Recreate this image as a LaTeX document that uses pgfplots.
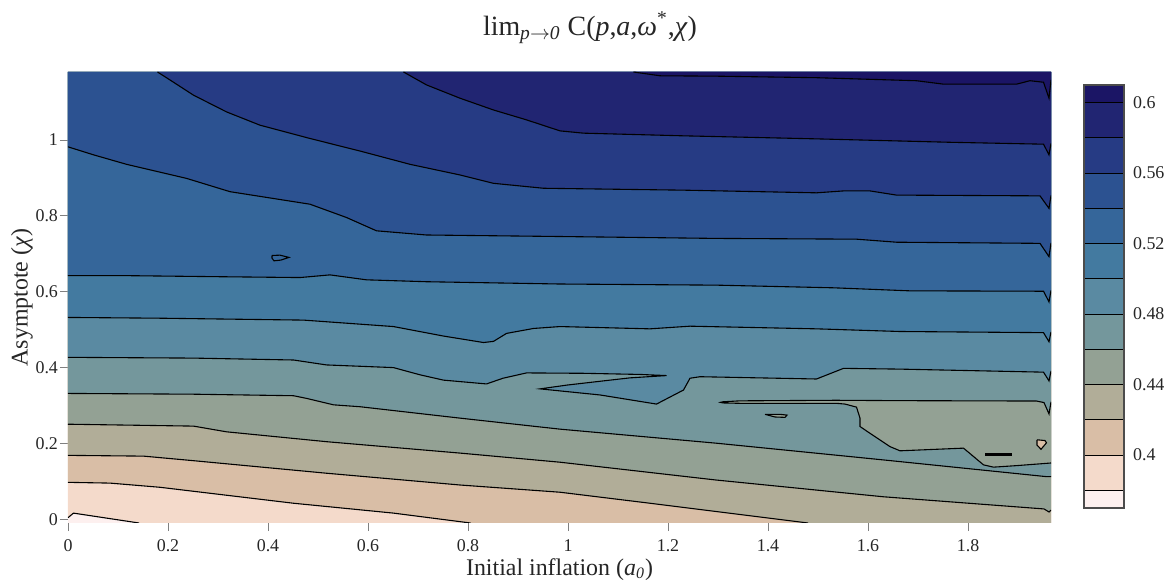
\documentclass[border=0pt]{standalone}
\usepackage{fontspec}
\setmainfont{Liberation Serif}
\usepackage{pgfplots}
\pgfplotsset{compat=1.18}
\definecolor{b0}{HTML}{FDF0EF}
\definecolor{b1}{HTML}{F4DACB}
\definecolor{b2}{HTML}{D9BEA6}
\definecolor{b3}{HTML}{B1AD98}
\definecolor{b4}{HTML}{93A194}
\definecolor{b5}{HTML}{74979C}
\definecolor{b6}{HTML}{5A8AA2}
\definecolor{b7}{HTML}{437AA0}
\definecolor{b8}{HTML}{35669A}
\definecolor{b9}{HTML}{2C5291}
\definecolor{b10}{HTML}{263B84}
\definecolor{b11}{HTML}{212572}
\definecolor{b12}{HTML}{1B1565}
\definecolor{txt}{HTML}{262626}
% contour lines (data coordinates)
\def\LA{(0,0.006) (0.011,0.018) (0.142,-0.008)}
\def\LB{(0,0.099) (0.084,0.097) (0.184,0.086) (0.451,0.044) (0.651,0.018) (0.805,-0.008)}
\def\LC{(0,0.170) (0.151,0.168) (0.251,0.156) (0.517,0.123) (0.784,0.092) (0.984,0.073) (1.164,0.044) (1.48,-0.008)}
\def\LD{(0,0.252) (0.251,0.247) (0.317,0.232) (0.517,0.206) (0.784,0.176) (0.984,0.152) (1.297,0.105) (1.631,0.061) (1.952,0.029) (1.962,0.021) (1.966,0.026)}
\def\LE{(0,0.333) (0.251,0.331) (0.451,0.327) (0.477,0.320) (0.531,0.303) (0.584,0.298) (0.784,0.268) (0.984,0.239) (1.297,0.202) (1.631,0.158) (1.957,0.114) (1.966,0.114)}
\def\IS{(1.966,0.150) (1.957,0.149) (1.897,0.143) (1.851,0.139) (1.831,0.145) (1.791,0.189) (1.664,0.182) (1.644,0.193) (1.604,0.228) (1.584,0.246) (1.584,0.268) (1.577,0.297) (1.554,0.305) (1.536,0.307) (1.344,0.307) (1.31,0.308) (1.305,0.3095) (1.31,0.311) (1.344,0.3135) (1.536,0.315) (1.664,0.314) (1.937,0.313) (1.952,0.309) (1.962,0.279) (1.966,0.311)}
\def\SL{(1.394,0.278) (1.424,0.278) (1.438,0.276) (1.434,0.270) (1.414,0.271) (1.394,0.278)}
\def\DS{(1.938,0.211) (1.954,0.209) (1.957,0.203) (1.946,0.186) (1.938,0.197) (1.938,0.211)}
\def\LF{(0,0.428) (0.251,0.426) (0.451,0.421) (0.517,0.408) (0.651,0.401) (0.704,0.382) (0.751,0.368) (0.837,0.358) (0.870,0.373) (0.917,0.387) (1.031,0.386) (1.144,0.383) (1.197,0.380) (1.124,0.374) (1.064,0.365) (0.998,0.355) (0.944,0.345) (1.064,0.329) (1.177,0.305) (1.231,0.342) (1.244,0.373) (1.264,0.377) (1.497,0.371) (1.551,0.399) (1.664,0.397) (1.951,0.389) (1.962,0.366) (1.966,0.392)}
\def\LG{(0,0.533) (0.184,0.531) (0.471,0.526) (0.651,0.509) (0.751,0.484) (0.831,0.467) (0.851,0.470) (0.877,0.491) (0.931,0.504) (0.984,0.509) (1.164,0.503) (1.244,0.510) (1.497,0.503) (1.664,0.496) (1.951,0.493) (1.962,0.469) (1.966,0.495)}
\def\LH{(0,0.643) (0.117,0.643) (0.317,0.640) (0.464,0.638) (0.524,0.645) (0.597,0.632) (0.717,0.627) (0.984,0.621) (1.297,0.618) (1.531,0.611) (1.684,0.603) (1.951,0.602) (1.962,0.574) (1.966,0.604)}
\def\TL{(0.408,0.696) (0.424,0.697) (0.442,0.691) (0.426,0.684) (0.412,0.682) (0.408,0.689) (0.408,0.696)}
\def\LI{(0,0.982) (0.051,0.961) (0.117,0.936) (0.237,0.899) (0.324,0.864) (0.484,0.831) (0.557,0.796) (0.617,0.761) (0.717,0.750) (0.984,0.746) (1.297,0.741) (1.577,0.739) (1.657,0.731) (1.944,0.728) (1.962,0.693) (1.966,0.729)}
\def\LJ{(0.179,1.179) (0.204,1.158) (0.251,1.118) (0.317,1.074) (0.384,1.039) (0.484,1.004) (0.584,0.971) (0.684,0.936) (0.784,0.908) (0.851,0.886) (0.951,0.873) (1.231,0.868) (1.497,0.861) (1.551,0.866) (1.604,0.866) (1.657,0.855) (1.944,0.853) (1.962,0.820) (1.966,0.854)}
\def\LK{(0.671,1.179) (0.717,1.145) (0.784,1.110) (0.851,1.079) (0.917,1.053) (0.984,1.024) (1.031,1.018) (1.231,1.011) (1.497,1.003) (1.764,0.994) (1.951,0.989) (1.962,0.961) (1.966,0.991)}
\def\LL{(1.131,1.179) (1.184,1.169) (1.297,1.168) (1.497,1.164) (1.697,1.156) (1.751,1.147) (1.897,1.147) (1.924,1.156) (1.951,1.152) (1.962,1.110) (1.966,1.158)}
\def\CLR{(1.966,1.179) (0,1.179)}
\def\CBR{(1.966,-0.008) (1.966,1.179) (0,1.179)}
\def\CTR{(1.966,1.179)}
\newcommand\reg[3]{\edef\tmp{\noexpand\addplot[fill=#1,draw=none,forget plot] coordinates {#2 #3} -- cycle;}\tmp}
\newcommand\lin[1]{\edef\tmp{\noexpand\addplot[black,line width=0.55pt,forget plot] coordinates {#1};}\tmp}
\newcommand\cbox[3]{\addplot[fill=#1,draw=black,line width=0.5pt,forget plot] coordinates {(0,#2) (1,#2) (1,#3) (0,#3)} -- cycle;}
\begin{document}
\begin{tikzpicture}
\useasboundingbox (0,0) rectangle (582.5bp,290.5bp);
\begin{axis}[at={(34bp,29bp)}, anchor=south west,
  width=491.5bp, height=225.5bp, scale only axis,
  xmin=0, xmax=1.966, ymin=-0.008, ymax=1.179,
  axis line style={draw=none},
  tick pos=left, tick align=outside, major tick length=4bp,
  every tick/.style={gray, line width=0.5pt},
  xtick={0,0.2,0.4,0.6,0.8,1,1.2,1.4,1.6,1.8},
  ytick={0,0.2,0.4,0.6,0.8,1},
  /pgf/number format/assume math mode=true,
  tick label style={font=\fontsize{9}{10}\selectfont, text=txt},
  xticklabel style={yshift=-1bp},
  yticklabel style={xshift=2.5bp},
  label style={font=\fontsize{12}{14}\selectfont, text=txt},
  xlabel={Initial inflation (\textit{a}\textsubscript{\textit{0}})},
  ylabel={Asymptote (\textit{χ})},
  xlabel style={at={(axis description cs:0.5,-0.1153)}, anchor=base},
  ylabel style={at={(axis description cs:-0.0468,0.5)}, anchor=center},
  clip=true]
\reg{b0}{(0,-0.008) (1.966,-0.008)}{\CTR (0,1.179)}
\reg{b1}{\LA}{\CBR}
\reg{b2}{\LB}{\CBR}
\reg{b3}{\LC}{\CBR}
\reg{b4}{\LD}{\CLR}
\reg{b5}{\LE}{\CLR}
\reg{b4}{\IS}{}
\reg{b4}{\SL}{}
\reg{b2}{\DS}{}
\reg{b6}{\LF}{\CLR}
\reg{b7}{\LG}{\CLR}
\reg{b8}{\LH}{\CLR}
\reg{b9}{\LI}{\CLR}
\reg{b10}{\LJ}{\CTR}
\reg{b11}{\LK}{\CTR}
\reg{b12}{\LL}{\CTR}
\lin{\LA}\lin{\LB}\lin{\LC}\lin{\LD}\lin{\LE}\lin{\IS}\lin{\SL}\lin{\DS}
\addplot[black,line width=1.2pt,forget plot] coordinates {(1.834,0.172) (1.887,0.172)};
\lin{\LF}\lin{\LG}\lin{\LH}\lin{\TL}\lin{\LI}\lin{\LJ}\lin{\LK}\lin{\LL}
\end{axis}
\begin{axis}[at={(542bp,36.5bp)}, anchor=south west,
  x=20bp, height=211.5bp, scale only axis,
  xmin=0, xmax=1, ymin=0.37, ymax=0.61,
  axis on top, axis line style={draw=gray!60!black, line width=0.6pt},
  xtick=\empty, ytick={0.4,0.44,0.48,0.52,0.56,0.6},
  yticklabels={0.4,0.44,0.48,0.52,0.56,0.6},
  yticklabel pos=right, major tick length=0pt,
  yticklabel style={xshift=1bp},
  tick label style={font=\fontsize{9}{10}\selectfont, text=txt}]
\cbox{b0}{0.37}{0.38}
\cbox{b1}{0.38}{0.40}
\cbox{b2}{0.40}{0.42}
\cbox{b3}{0.42}{0.44}
\cbox{b4}{0.44}{0.46}
\cbox{b5}{0.46}{0.48}
\cbox{b6}{0.48}{0.50}
\cbox{b7}{0.50}{0.52}
\cbox{b8}{0.52}{0.54}
\cbox{b9}{0.54}{0.56}
\cbox{b10}{0.56}{0.58}
\cbox{b11}{0.58}{0.60}
\cbox{b12}{0.60}{0.61}
\end{axis}
\node[text=txt, font=\fontsize{14}{16}\selectfont] at (295bp,276.5bp) {lim\textsubscript{\textit{p}$\rightarrow$\textit{0}} C(\textit{p},\textit{a},\textit{ω}\textsuperscript{*},\textit{χ})};
\end{tikzpicture}
\end{document}
